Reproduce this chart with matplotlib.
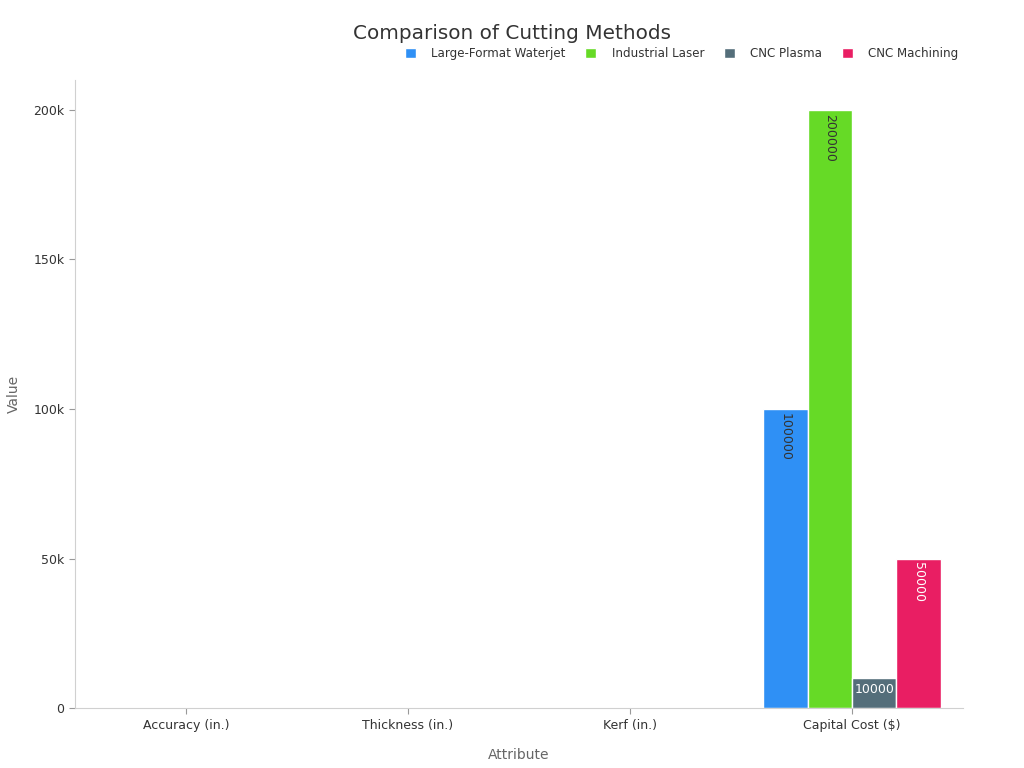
import matplotlib
matplotlib.use("Agg")
import numpy as np
import matplotlib.pyplot as plt
from matplotlib.ticker import FuncFormatter

# data
categories = ['Accuracy (in.)', 'Thickness (in.)', 'Kerf (in.)', 'Capital Cost ($)']
methods = ['Large-Format Waterjet', 'Industrial Laser', 'CNC Plasma', 'CNC Machining']
waterjet = [0.005, 24, 0.03, 100000]
laser = [0.005, 1, 0.01, 200000]
plasma = [0.02, 6, 0.15, 10000]
machining = [0.001, 12, 0.125, 50000]
series = [waterjet, laser, plasma, machining]

colors = ['#2F90F5', '#66DA26', '#546E7A', '#E91E63']
label_colors = ['#333333', '#333333', '#ffffff', '#ffffff']

fig = plt.figure(figsize=(10.24, 7.68), dpi=100)
ax = fig.add_axes([0.0732, 0.078, 0.8672, 0.8178])

x = np.arange(len(categories))
group_w = 0.8
bar_w = group_w / len(methods)

for i, (name, vals) in enumerate(zip(methods, series)):
    pos = x - group_w / 2 + bar_w * (i + 0.5)
    bars = ax.bar(pos, vals, width=bar_w, color=colors[i], edgecolor='white',
                  linewidth=1, label=name)
    for b, v in zip(bars, vals):
        if v < 1000:
            continue
        cx = b.get_x() + b.get_width() / 2
        if v > 30000:
            # vertical label inside top of bar
            ax.text(cx, v - 1200, f'{v:g}', rotation=-90, ha='center', va='top',
                    fontsize=9, color=label_colors[i])
        else:
            ax.text(cx, v - 1600, f'{v:g}', ha='center', va='top',
                    fontsize=9, color=label_colors[i])

ax.set_xlim(-0.5, len(categories) - 0.5)
ax.set_ylim(0, 210000)
ax.set_yticks([0, 50000, 100000, 150000, 200000])
ax.yaxis.set_major_formatter(FuncFormatter(lambda v, p: '0' if v == 0 else f'{v/1000:g}k'))
ax.set_xticks(x)
ax.set_xticklabels(categories)

for s in ['top', 'right']:
    ax.spines[s].set_visible(False)
for s in ['left', 'bottom']:
    ax.spines[s].set_color('#d0d0d0')
ax.tick_params(axis='both', colors='#999999', labelcolor='#333333', labelsize=9,
               length=4)

ax.set_xlabel('Attribute', fontsize=10, color='#666666', labelpad=12)
ax.set_ylabel('Value', fontsize=10, color='#666666', labelpad=9)

fig.text(0.5, 0.957, 'Comparison of Cutting Methods', ha='center', va='center',
         fontsize=14.4, color='#333333')
leg = ax.legend(loc='upper right', bbox_to_anchor=(1.007, 1.07), ncol=4, frameon=False,
                fontsize=8.6, handlelength=0.9, handleheight=0.9, handletextpad=1.3,
                columnspacing=1.65)
for t in leg.get_texts():
    t.set_color('#333333')

fig.savefig('out.png', dpi=100)
